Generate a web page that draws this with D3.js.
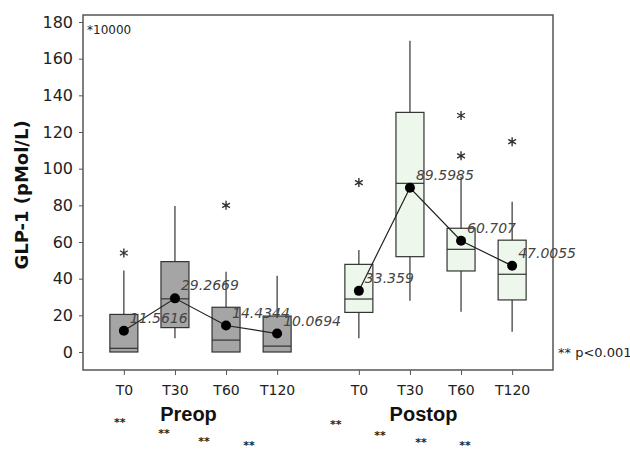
<!DOCTYPE html>
<html>
<head>
<meta charset="utf-8">
<script src="https://cdn.jsdelivr.net/npm/d3@7"></script>
<style>
  body { margin: 0; background: #fff; }
  svg { display: block; }
</style>
</head>
<body>
<div id="chart"></div>
<script>
// GLP-1 box plots, preop vs postop (values in units of *10000)
const groups = ["Preop", "Postop"]
const times = ["T0", "T30", "T60", "T120"]

// per box: [min whisker, q1, median, q3, max whisker]
const preopBoxes = [
  [0, 0, 2, 20.5, 44.5],
  [7.5, 13.3, 29, 49.3, 79.6],
  [0, 0, 6.5, 24.4, 43.8],
  [0, 0, 3.2, 19.6, 41.6]
]
const postopBoxes = [
  [7.5, 21.6, 28.9, 47.8, 55.6],
  [28, 52, 92, 130.7, 169.8],
  [22, 44.2, 56, 67.5, 95.6],
  [11, 28.4, 42.4, 61, 82]
]
const preopMeans = [11.5616, 29.2669, 14.4344, 10.0694]
const postopMeans = [33.359, 89.5985, 60.707, 47.0055]
const preopOutliers = [[54], [], [80], []]
const postopOutliers = [[92.4], [], [107, 129], [114.7]]

const yTicks = [0, 20, 40, 60, 80, 100, 120, 140, 160, 180]

const w = 630
const h = 452
const pLeft = 83, pRight = 553, pTop = 15, pBottom = 370
const groupGap = 1.6  // spacing between the two groups, in box units

const svg = d3.select("#chart").append("svg")
  .attr("width", w)
  .attr("height", h)

const x = d3.scaleLinear()
  .domain([0.2, 9.4])
  .range([pLeft, pRight])

const y = d3.scaleLinear()
  .domain([0, 180])
  .range([352, 22])

const pos = (g, i) => 1 + i + g * (times.length - 1 + groupGap)

const boxes = []
;[preopBoxes, postopBoxes].forEach((arr, g) => {
  arr.forEach((b, i) => {
    boxes.push({
      g: g, i: i,
      lo: b[0], q1: b[1], med: b[2], q3: b[3], hi: b[4],
      mean: (g ? postopMeans : preopMeans)[i],
      out: (g ? postopOutliers : preopOutliers)[i]
    })
  })
})

// frame
svg.append("rect")
  .attr("x", pLeft).attr("y", pTop)
  .attr("width", pRight - pLeft).attr("height", pBottom - pTop)
  .attr("fill", "none")
  .attr("stroke", "#555")
  .attr("stroke-width", 1.5)

// axes
const yAxis = d3.axisLeft(y).tickValues(yTicks).tickSize(4).tickSizeOuter(0)
const yg = svg.append("g")
  .attr("transform", `translate(${pLeft},0)`)
  .call(yAxis)
yg.select(".domain").remove()
yg.selectAll("line").attr("stroke", "#555")
yg.selectAll("text")
  .attr("font-family", "DejaVu Sans, sans-serif")
  .attr("font-size", 16)
  .attr("fill", "#222")
  .attr("x", -10)

const tickPos = []
groups.forEach((gName, g) => times.forEach((t, i) => tickPos.push({ p: pos(g, i), t: t })))

const xAxis = d3.axisBottom(x)
  .tickValues(tickPos.map(d => d.p))
  .tickFormat((d, i) => tickPos[i].t)
  .tickSize(5)
  .tickSizeOuter(0)
const xg = svg.append("g")
  .attr("transform", `translate(0,${pBottom})`)
  .call(xAxis)
xg.select(".domain").remove()
xg.selectAll("line").attr("stroke", "#555")
xg.selectAll("text")
  .attr("font-family", "DejaVu Sans, sans-serif")
  .attr("font-size", 14)
  .attr("fill", "#222")
  .attr("dy", null)
  .attr("y", 25)

// boxes
const boxW = 28
const bx = svg.append("g")
bx.selectAll("line.whisker")
  .data(boxes)
  .join("line")
  .attr("class", "whisker")
  .attr("x1", d => x(pos(d.g, d.i)))
  .attr("x2", d => x(pos(d.g, d.i)))
  .attr("y1", d => y(d.lo))
  .attr("y2", d => y(d.hi))
  .attr("stroke", "#333")
  .attr("stroke-width", 1.2)

bx.selectAll("rect")
  .data(boxes)
  .join("rect")
  .attr("x", d => x(pos(d.g, d.i)) - boxW / 2)
  .attr("y", d => y(d.q3))
  .attr("width", boxW)
  .attr("height", d => y(d.q1) - y(d.q3))
  .attr("fill", d => d.g ? "#eef7ec" : "#a5a5a5")
  .attr("stroke", "#333")
  .attr("stroke-width", 1.2)

bx.selectAll("line.median")
  .data(boxes)
  .join("line")
  .attr("class", "median")
  .attr("x1", d => x(pos(d.g, d.i)) - boxW / 2)
  .attr("x2", d => x(pos(d.g, d.i)) + boxW / 2)
  .attr("y1", d => y(d.med))
  .attr("y2", d => y(d.med))
  .attr("stroke", "#333")
  .attr("stroke-width", 1.2)

// outliers as asterisks
const star = r => {
  let p = ""
  for (let k = 0; k < 3; k++) {
    const a = Math.PI / 2 + k * Math.PI / 3
    const dx = Math.cos(a) * r, dy = Math.sin(a) * r
    p += `M${-dx},${-dy}L${dx},${dy}`
  }
  return p
}
const outPts = boxes.flatMap(d => d.out.map(v => ({ g: d.g, i: d.i, v: v })))
svg.selectAll("path.outlier")
  .data(outPts)
  .join("path")
  .attr("class", "outlier")
  .attr("transform", d => `translate(${x(pos(d.g, d.i))},${y(d.v)})`)
  .attr("d", star(4.5))
  .attr("stroke", "#333")
  .attr("stroke-width", 1.4)

// mean lines, dots and labels
const line = d3.line().x(d => x(pos(d.g, d.i))).y(d => y(d.mean))
groups.forEach((gName, g) => {
  svg.append("path")
    .datum(boxes.filter(d => d.g === g))
    .attr("d", line)
    .attr("fill", "none")
    .attr("stroke", "#222")
    .attr("stroke-width", 1.2)
})
svg.selectAll("circle.mean")
  .data(boxes)
  .join("circle")
  .attr("class", "mean")
  .attr("cx", d => x(pos(d.g, d.i)))
  .attr("cy", d => y(d.mean))
  .attr("r", 5)
  .attr("fill", "#000")
svg.selectAll("text.mean")
  .data(boxes)
  .join("text")
  .attr("class", "mean")
  .attr("x", d => x(pos(d.g, d.i)) + 6)
  .attr("y", d => y(d.mean) - 8)
  .attr("font-family", "DejaVu Sans, sans-serif")
  .attr("font-style", "italic")
  .attr("font-size", 14)
  .attr("fill", "#444")
  .text(d => d.mean)

// titles and notes
svg.append("text")
  .attr("transform", `translate(28,195) rotate(-90)`)
  .attr("text-anchor", "middle")
  .attr("font-family", "DejaVu Sans, sans-serif")
  .attr("font-weight", "bold")
  .attr("font-size", 18)
  .attr("fill", "#111")
  .text("GLP-1 (pMol/L)")

svg.append("text")
  .attr("x", pLeft + 4).attr("y", pTop + 19)
  .attr("font-family", "DejaVu Sans, sans-serif")
  .attr("font-size", 12)
  .attr("fill", "#222")
  .text("*10000")

svg.append("text")
  .attr("x", pRight + 5).attr("y", 357)
  .attr("font-family", "DejaVu Sans, sans-serif")
  .attr("font-size", 13)
  .attr("fill", "#222")
  .text("** p<0.001")

groups.forEach((gName, g) => {
  const mid = (x(pos(g, 0)) + x(pos(g, times.length - 1))) / 2 - 12
  svg.append("text")
    .attr("x", mid).attr("y", 421)
    .attr("text-anchor", "middle")
    .attr("font-family", "Liberation Sans, Arial, sans-serif")
    .attr("font-weight", "bold")
    .attr("font-size", 20)
    .attr("fill", "#111")
    .text(gName)
})

// significance stars under each time point (staggered like the original)
const starShift = [[4, 11, 22, 28], [23, 30, 40, 47]]
const starDrop = [[426, 437, 445, 449], [428, 439, 446, 449]]
groups.forEach((gName, g) => times.forEach((t, i) => {
  svg.append("text")
    .attr("x", x(pos(g, i)) - starShift[g][i])
    .attr("y", starDrop[g][i])
    .attr("text-anchor", "middle")
    .attr("font-family", "DejaVu Sans, sans-serif")
    .attr("font-weight", "bold")
    .attr("font-size", 11)
    .attr("fill", "#222")
    .text("**")
}))
</script>
</body>
</html>
